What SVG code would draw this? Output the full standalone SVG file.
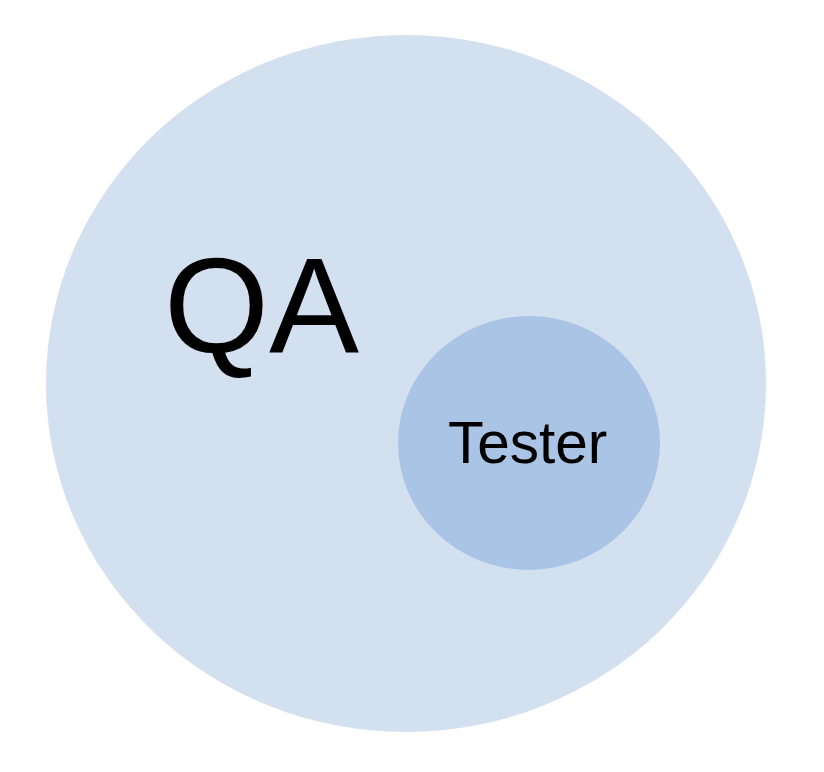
<svg xmlns="http://www.w3.org/2000/svg" width="824" height="772" viewBox="0 0 824 772">
<style>
text{font-family:"Liberation Sans",Arial,sans-serif;fill:#000}
</style>
<rect width="824" height="772" fill="#fff"/>
<g id="qa">
<ellipse cx="406" cy="383.5" rx="360" ry="348.5" fill="#d3e0f0"/>
<text x="164" y="352" font-size="135">QA</text>
</g>
<g id="tester">
<ellipse cx="529" cy="443" rx="131" ry="127" fill="#a9c4e4"/>
<text x="448" y="463" font-size="58.5">Tester</text>
</g>
<g id="connectors"/>
</svg>
